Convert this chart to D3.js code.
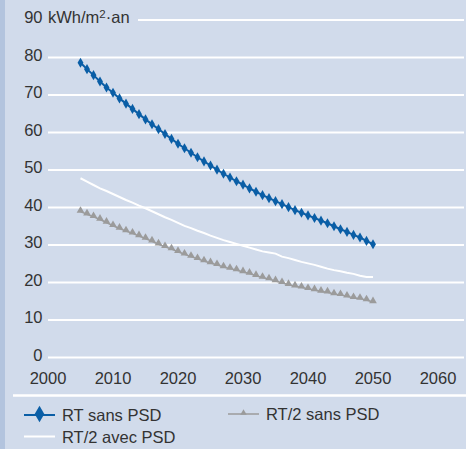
<!DOCTYPE html>
<html lang="fr">
<head>
<meta charset="UTF-8">
<title>kWh/m2.an</title>
<script src="https://d3js.org/d3.v7.min.js"></script>
<style>
    body{ margin:0; background:#d1dbeb; }
    svg text{ font-family:"Liberation Sans", Arial, sans-serif; font-size:16.5px; fill:#333; }
</style>
</head>
<body>
<svg width="466" height="449"></svg>
<script>
// data
var years = d3.range(2005, 2051);
var rtSansPsd = [78.6, 76.9, 75.3, 73.6, 72.0, 70.6, 69.1, 67.7, 66.3, 64.9,
    63.5, 62.2, 60.9, 59.6, 58.3, 57.0, 55.8, 54.6, 53.4, 52.3,
    51.2, 50.1, 49.0, 48.0, 47.0, 46.1, 45.1, 44.2, 43.3, 42.5,
    41.7, 40.9, 40.1, 39.3, 38.6, 37.9, 37.2, 36.5, 35.8, 35.0,
    34.2, 33.5, 32.7, 32.0, 31.1, 30.2];
var rt2SansPsd = [38.9, 38.2, 37.5, 36.8, 36.0, 35.1, 34.4, 33.7, 33.1, 32.4,
    31.7, 31.0, 30.2, 29.5, 28.9, 28.2, 27.5, 26.9, 26.3, 25.7,
    25.2, 24.7, 24.1, 23.7, 23.3, 22.8, 22.4, 21.8, 21.3, 20.9,
    20.4, 19.9, 19.4, 19.0, 18.7, 18.3, 18.0, 17.6, 17.4, 16.9,
    16.7, 16.3, 15.9, 15.7, 15.3, 14.8];
var rt2AvecPsd = [47.8, 46.9, 46.0, 45.1, 44.4, 43.6, 42.8, 42.0, 41.3, 40.5,
    39.8, 39.0, 38.2, 37.4, 36.7, 35.9, 35.1, 34.5, 33.8, 33.2,
    32.5, 31.9, 31.3, 30.8, 30.3, 29.8, 29.3, 28.8, 28.3, 28.0,
    27.7, 26.9, 26.5, 26.0, 25.5, 25.1, 24.7, 24.2, 23.7, 23.3,
    23.0, 22.6, 22.3, 21.8, 21.5, 21.5];
var xTicks = [2000, 2010, 2020, 2030, 2040, 2050, 2060];
var yTicks = [0, 10, 20, 30, 40, 50, 60, 70, 80, 90];
var unitLabel = "kWh/m";
var legendNames = ["RT sans PSD", "RT/2 sans PSD", "RT/2 avec PSD"];

var conf = {
    "left": 48,
    "right": 464,
    "top": 20,
    "bottom": 357.5,
    "blue": "#0a5ea6",
    "grey": "#9b9b9b",
    "text": "#333"
};

var svg = d3.select("svg");

// darker strip on the left
svg.append("rect").attr("x", 0).attr("y", 0).attr("width", 5).attr("height", 449).attr("fill", "#b3c4de");

var x = d3.scaleLinear().domain([2000, 2064]).range([conf.left, conf.right]);
var y = d3.scaleLinear().domain([0, 90]).range([conf.bottom, conf.top]);

// gridlines
svg.append("g").selectAll("line")
    .data(yTicks)
    .enter().append("line")
    .attr("x1", function(d){ return d == 90 ? 138 : conf.left; })
    .attr("x2", conf.right)
    .attr("y1", function(d){ return y(d); })
    .attr("y2", function(d){ return y(d); })
    .attr("stroke", "#fff")
    .attr("stroke-width", 2);

// y labels
svg.append("g").selectAll("text")
    .data(yTicks)
    .enter().append("text")
    .attr("x", 42.5)
    .attr("y", function(d){ return y(d) + 3; })
    .attr("text-anchor", "end")
    .text(function(d){ return d; });

var unit = svg.append("text").attr("x", 48).attr("y", y(90) + 3);
unit.append("tspan").text(unitLabel);
unit.append("tspan").attr("dy", -5).style("font-size", "11.5px").text("2");
unit.append("tspan").attr("dy", 5).text("\u00b7an");

// x labels
svg.append("g").selectAll("text")
    .data(xTicks)
    .enter().append("text")
    .attr("x", function(d){ return x(d); })
    .attr("y", 383.5)
    .attr("text-anchor", "middle")
    .text(function(d){ return d; });

function seriesPoints(vals){
    return vals.map(function(v, i){ return {year: years[i], value: v}; });
}

var line = d3.line()
    .x(function(d){ return x(d.year); })
    .y(function(d){ return y(d.value); });

// white line
svg.append("path")
    .datum(seriesPoints(rt2AvecPsd))
    .attr("d", line)
    .attr("fill", "none")
    .attr("stroke", "#fff")
    .attr("stroke-width", 2);

// grey line + triangles
svg.append("path")
    .datum(seriesPoints(rt2SansPsd))
    .attr("d", line)
    .attr("fill", "none")
    .attr("stroke", conf.grey)
    .attr("stroke-width", 1.5);
var tri = d3.symbol().type(d3.symbolTriangle).size(26);
svg.append("g").selectAll("path")
    .data(seriesPoints(rt2SansPsd))
    .enter().append("path")
    .attr("d", tri)
    .attr("transform", function(d){ return "translate(" + x(d.year) + "," + (y(d.value) - 1) + ")"; })
    .attr("fill", conf.grey);

// blue line + diamonds
svg.append("path")
    .datum(seriesPoints(rtSansPsd))
    .attr("d", line)
    .attr("fill", "none")
    .attr("stroke", conf.blue)
    .attr("stroke-width", 2);
var diamond = d3.symbol().type(d3.symbolDiamond).size(30);
svg.append("g").selectAll("path")
    .data(seriesPoints(rtSansPsd))
    .enter().append("path")
    .attr("d", diamond)
    .attr("transform", function(d){ return "translate(" + x(d.year) + "," + y(d.value) + ")"; })
    .attr("fill", conf.blue);

// legend
svg.append("line").attr("x1", 13).attr("x2", 466).attr("y1", 395.5).attr("y2", 395.5)
    .attr("stroke", "#fff").attr("stroke-width", 2.5);

var legend = [
    {name: legendNames[0], x: 24, y: 415, color: conf.blue, sym: d3.symbol().type(d3.symbolDiamond).size(80), w: 2},
    {name: legendNames[1], x: 228, y: 414, color: conf.grey, sym: d3.symbol().type(d3.symbolTriangle).size(18), w: 1.5},
    {name: legendNames[2], x: 24, y: 436.5, color: "#fff", sym: null, w: 2}
];
var lg = svg.append("g").selectAll("g").data(legend).enter().append("g")
    .attr("transform", function(d){ return "translate(" + d.x + "," + d.y + ")"; });
lg.append("line").attr("x1", 0).attr("x2", 31).attr("y1", 0).attr("y2", 0)
    .attr("stroke", function(d){ return d.color; })
    .attr("stroke-width", function(d){ return d.w; });
lg.filter(function(d){ return d.sym; }).append("path")
    .attr("d", function(d){ return d.sym(); })
    .attr("transform", "translate(15.5,-1)")
    .attr("fill", function(d){ return d.color; });
lg.append("text").attr("x", 38).attr("y", 6)
    .text(function(d){ return d.name; });
</script>
</body>
</html>
